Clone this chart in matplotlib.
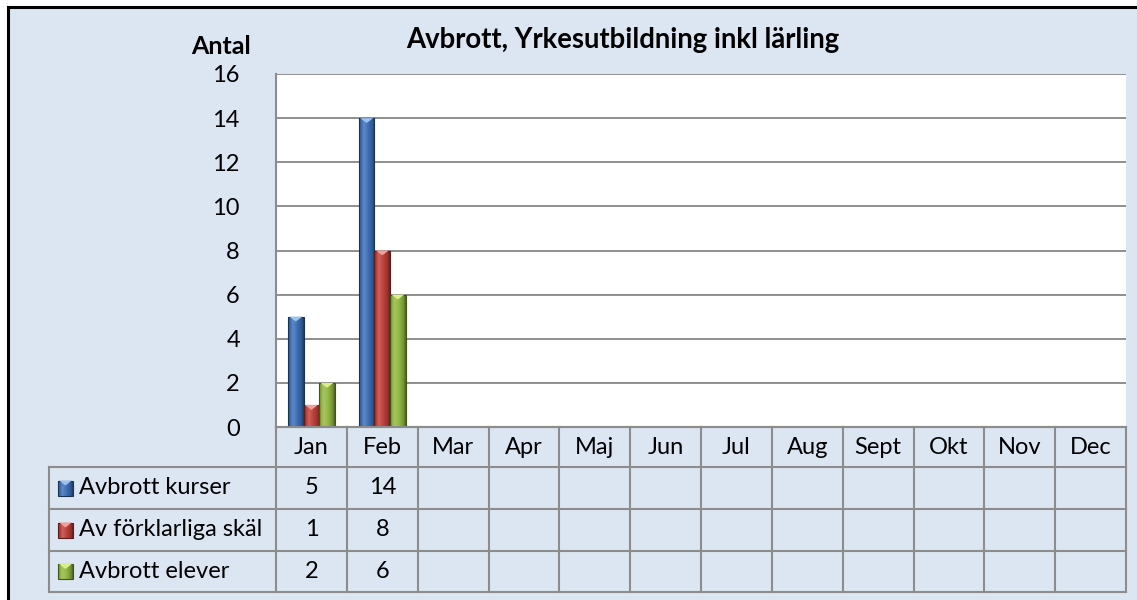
import numpy as np
import matplotlib
matplotlib.use("Agg")
import matplotlib.pyplot as plt
from matplotlib.patches import Rectangle, Polygon
from matplotlib.lines import Line2D
from matplotlib.colors import to_rgb

# ---------------- data ----------------
months = ["Jan", "Feb", "Mar", "Apr", "Maj", "Jun", "Jul", "Aug", "Sept", "Okt", "Nov", "Dec"]
series_names = ["Avbrott kurser", "Av förklarliga skäl", "Avbrott elever"]
avbrott_kurser = [5, 14]
forklarliga_skal = [1, 8]
avbrott_elever = [2, 6]
y_ticks = [0, 2, 4, 6, 8, 10, 12, 14, 16]
title = "Avbrott, Yrkesutbildning inkl lärling"
y_label = "Antal"

series_values = [avbrott_kurser, forklarliga_skal, avbrott_elever]
base_colors = ["#3D6FB6", "#C0403A", "#93B843"]
light_colors = ["#9CC3F0", "#F0A09C", "#D8F08C"]

FONT = "Lato"
plt.rcParams["font.family"] = [FONT, "DejaVu Sans"]
FS = 17

W, H = 1137, 600
fig = plt.figure(figsize=(W / 100, H / 100), dpi=100)
fig.patch.set_facecolor("white")

def fx(px):
    return px / W

def fy(py):
    return 1 - py / H

# background + black border (top and left)
fig.patches.append(Rectangle((fx(8), 0), 1 - fx(8), fy(7), transform=fig.transFigure,
                             facecolor="#DCE6F2", edgecolor="none", zorder=-3))
fig.lines.append(Line2D([fx(8), 1], [fy(7), fy(7)], transform=fig.transFigure, color="black", lw=2.2, zorder=-2))
fig.lines.append(Line2D([fx(8), fx(8)], [fy(7), 0], transform=fig.transFigure, color="black", lw=2.2, zorder=-2))

# ---------------- main axes ----------------
PL, PR, PT, PB = 276, 1126, 74, 427
ax = fig.add_axes([fx(PL), fy(PB), fx(PR) - fx(PL), (PB - PT) / H])
ax.set_zorder(1)
ax.set_facecolor("white")
ax.set_xlim(-0.5, len(months) - 0.5)
ax.set_ylim(0, 16)
ax.set_yticks(y_ticks)
ax.set_yticklabels([str(v) for v in y_ticks], fontsize=FS)
ax.tick_params(axis="y", length=0, pad=26)
ax.set_xticks([])
for s in ["top", "right"]:
    ax.spines[s].set_visible(False)
for s in ["left", "bottom"]:
    ax.spines[s].set_color("#8C8C8C")
    ax.spines[s].set_linewidth(1.5)
ax.grid(axis="y", color="#868686", lw=1.3)
ax.set_axisbelow(True)

def shade(col, f):
    c = np.array(to_rgb(col))
    if f >= 1:
        return c + (1 - c) * (f - 1)
    return c * f

profile_x = np.array([0.0, 0.08, 0.3, 0.55, 0.85, 1.0])
profile_f = np.array([0.55, 0.9, 1.18, 1.02, 0.8, 0.55])
xs = np.linspace(0, 1, 40)
fs = np.interp(xs, profile_x, profile_f)

def bevel(axis, x0, y0, w, h, col, light, tri_h):
    grad = np.array([[shade(col, f) for f in fs]])
    im = axis.imshow(grad, extent=(x0, x0 + w, y0, y0 + h), aspect="auto",
                     interpolation="bilinear", zorder=3)
    clip = Rectangle((x0, y0), w, h, transform=axis.transData, facecolor="none", edgecolor="none")
    axis.add_patch(clip)
    im.set_clip_path(clip)
    axis.add_patch(Rectangle((x0, y0), w, h, facecolor="none",
                             edgecolor=shade(col, 0.45), lw=0.8, zorder=4))
    top = y0 + h
    axis.add_patch(Polygon([(x0 + w * 0.08, top), (x0 + w * 0.92, top), (x0 + w / 2, top - tri_h)],
                           closed=True, facecolor=light, edgecolor="none", zorder=5))

bw = 0.22
offsets = [-bw, 0, bw]
for si, vals in enumerate(series_values):
    x = np.arange(len(vals)) + offsets[si]
    bars = ax.bar(x, vals, width=bw, color="none", zorder=2)
    for b in bars:
        bevel(ax, b.get_x(), b.get_y(), b.get_width(), b.get_height(),
              base_colors[si], light_colors[si], 0.22)
ax.set_xlim(-0.5, len(months) - 0.5)
ax.set_ylim(0, 16)

# title and y label
fig.text(fx(623), fy(40), title, ha="center", va="center", fontsize=19.8, fontweight="bold")
fig.text(fx(251), fy(47), y_label, ha="right", va="center", fontsize=18, fontweight="bold")

# ---------------- data table ----------------
TL, TT, TB = 49, 427, 592
unit = (PR - PL) / len(months)
tx0 = -0.5 - (PL - TL) / unit
tax = fig.add_axes([fx(TL), fy(TB), fx(PR) - fx(TL), (TB - TT) / H])
tax.set_zorder(2)
tax.set_xlim(tx0, len(months) - 0.5)
tax.set_ylim(TB - TT, 0)
tax.axis("off")
tax.patch.set_visible(False)

row_edges = [0, 40, 82, 124, 165]
gc = "#8C8C8C"
glw = 1.5
tax.plot([-0.5, len(months) - 0.5], [row_edges[0]] * 2, color=gc, lw=glw, clip_on=False)
for r in row_edges[1:]:
    tax.plot([tx0, len(months) - 0.5], [r, r], color=gc, lw=glw, clip_on=False)
tax.plot([tx0, tx0], [row_edges[1], row_edges[-1]], color=gc, lw=glw, clip_on=False)
for i in range(len(months) + 1):
    tax.plot([i - 0.5, i - 0.5], [row_edges[0], row_edges[-1]], color=gc, lw=glw, clip_on=False)

for i, m in enumerate(months):
    tax.text(i, (row_edges[0] + row_edges[1]) / 2, m, ha="center", va="center", fontsize=FS)

key_w = 15 / unit
key_x = tx0 + (58 - TL) / unit
text_x = tx0 + (79 - TL) / unit
for si, name in enumerate(series_names):
    yc = (row_edges[si + 1] + row_edges[si + 2]) / 2
    bevel(tax, key_x, yc + 7.5, key_w, -15, base_colors[si], light_colors[si], -5)
    tax.text(text_x, yc, name, ha="left", va="center", fontsize=FS)
    for i, v in enumerate(series_values[si]):
        tax.text(i, yc, str(v), ha="center", va="center", fontsize=FS)

fig.savefig("out.png", dpi=100, facecolor=fig.get_facecolor())
